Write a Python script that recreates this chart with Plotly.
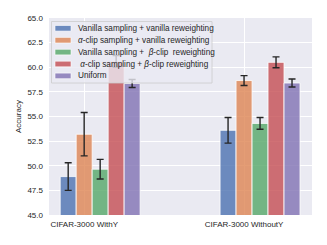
import plotly.graph_objects as go

categories = ["CIFAR-3000 WithY", "CIFAR-3000 WithoutY"]
series_names = [
    "Vanilla sampling + vanilla reweighting",
    "<i>α</i>-clip sampling + vanilla reweighting",
    "Vanilla sampling +  <i>β</i>-clip  reweighting",
    " <i>α</i>-clip sampling + <i>β</i>-clip reweighting",
    "Uniform",
]
vanilla_vanilla = [48.9, 53.6]
alpha_vanilla = [53.2, 58.65]
vanilla_beta = [49.65, 54.3]
alpha_beta = [60.6, 60.5]
uniform = [58.35, 58.4]
err_vanilla_vanilla = [1.4, 1.3]
err_alpha_vanilla = [2.2, 0.5]
err_vanilla_beta = [1.0, 0.6]
err_alpha_beta = [0.6, 0.55]
err_uniform = [0.4, 0.4]
y_ticks = [45.0, 47.5, 50.0, 52.5, 55.0, 57.5, 60.0, 62.5, 65.0]

values = [vanilla_vanilla, alpha_vanilla, vanilla_beta, alpha_beta, uniform]
errors = [err_vanilla_vanilla, err_alpha_vanilla, err_vanilla_beta, err_alpha_beta, err_uniform]
colors = ["76,114,176", "221,132,82", "85,168,104", "196,78,82", "129,114,179"]

W, H = 327, 245
L, R, T, B = 49, 312, 18, 215
FONT = "Liberation Sans, Arial, sans-serif"
TXT = "#262626"

fig = go.Figure()
bw = 0.1
for j, (name, vals, errs, c) in enumerate(zip(series_names, values, errors, colors)):
    fig.add_trace(go.Bar(
        x=categories, y=vals, name=name,
        width=bw, offset=-0.15 + j * bw,
        marker=dict(color=f"rgba({c},0.8)", line=dict(color="white", width=0.8)),
        error_y=dict(type="data", array=errs, visible=True, color="#262626",
                     thickness=1.4, width=3.5),
        showlegend=False,
    ))

def px2paper_x(px):
    return (px - L) / (R - L)

def px2paper_y(py):
    return (B - py) / (B - T)

shapes = []
annotations = []
# legend frame
shapes.append(dict(type="rect", xref="paper", yref="paper",
                   x0=px2paper_x(51.5), x1=px2paper_x(212), y0=px2paper_y(83), y1=px2paper_y(21.5),
                   fillcolor="rgba(234,234,242,0.8)", line=dict(color="#cccccc", width=0.8),
                   layer="above"))
row0, rowh = 28.3, 11.9
for j, (name, c) in enumerate(zip(series_names, colors)):
    yc = row0 + j * rowh
    shapes.append(dict(type="rect", xref="paper", yref="paper",
                       x0=px2paper_x(55), x1=px2paper_x(71),
                       y0=px2paper_y(yc + 2.8), y1=px2paper_y(yc - 2.8),
                       fillcolor=f"rgba({c},0.8)", line=dict(color="white", width=0.6),
                       layer="above"))
    annotations.append(dict(xref="paper", yref="paper", x=px2paper_x(76), y=px2paper_y(yc),
                            xanchor="left", yanchor="middle", text=name, showarrow=False,
                            font=dict(family=FONT, size=8.2, color=TXT)))

fig.update_layout(
    width=W, height=H,
    margin=dict(l=L, r=W - R, t=T, b=H - B, pad=0),
    paper_bgcolor="white", plot_bgcolor="#EAEAF2",
    barmode="overlay",
    font=dict(family=FONT, size=8, color=TXT),
    shapes=shapes, annotations=annotations,
    xaxis=dict(range=[-0.22, 1.425], showgrid=True, gridcolor="white", gridwidth=1,
               zeroline=False, showline=False, ticks="",
               tickfont=dict(size=8, color=TXT), ticklabelstandoff=3),
    yaxis=dict(range=[45, 65], tickvals=y_ticks, tickformat=".1f",
               showgrid=True, gridcolor="white", gridwidth=1, zeroline=False,
               showline=False, ticks="", tickfont=dict(size=8, color=TXT),
               ticklabelstandoff=5,
               title=dict(text="Accuracy", font=dict(size=8, color=TXT), standoff=4)),
)

fig.write_html("out.html", config={"displayModeBar": False},
               post_script="document.body.style.margin='0';document.body.style.overflow='hidden';")
